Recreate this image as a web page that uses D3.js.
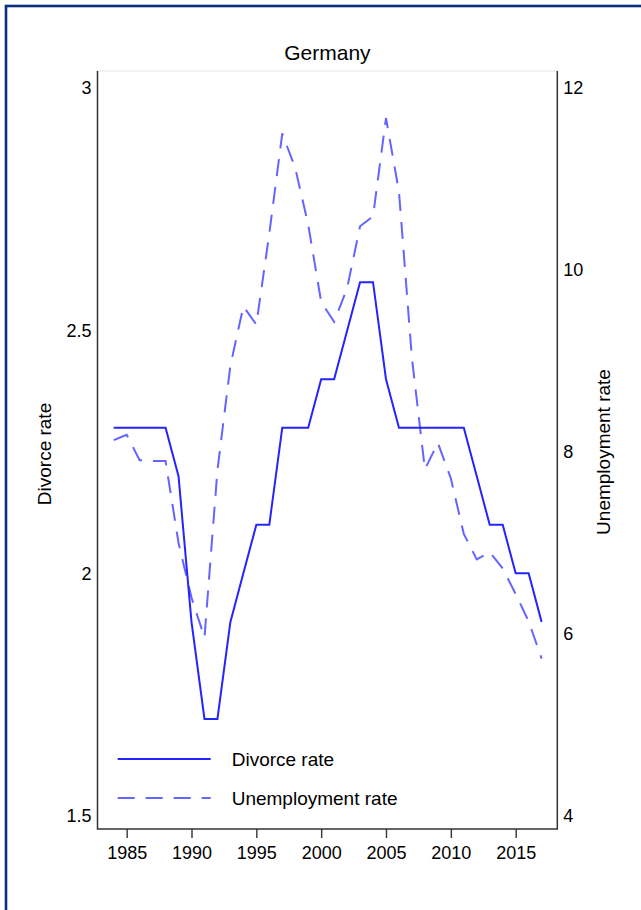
<!DOCTYPE html>
<html>
<head>
<meta charset="utf-8">
<script src="https://cdn.jsdelivr.net/npm/d3@7"></script>
<style>
  html, body { margin: 0; padding: 0; background: #fff; }
  svg { display: block; font-family: "Liberation Sans", Arial, Helvetica, sans-serif; }
</style>
</head>
<body>
<svg id="chart" width="641" height="910"></svg>
<script>
// ---- data ----
const years = [1984,1985,1986,1987,1988,1989,1990,1991,1992,1993,1994,1995,1996,1997,1998,1999,2000,2001,2002,2003,2004,2005,2006,2007,2008,2009,2010,2011,2012,2013,2014,2015,2016,2017];
const divorceRate = [2.3,2.3,2.3,2.3,2.3,2.2,1.9,1.7,1.7,1.9,2.0,2.1,2.1,2.3,2.3,2.3,2.4,2.4,2.5,2.6,2.6,2.4,2.3,2.3,2.3,2.3,2.3,2.3,2.2,2.1,2.1,2.0,2.0,1.9];
const unemploymentRate = [8.13,8.19,7.91,7.9,7.9,7.0,6.4,5.96,7.8,8.95,9.6,9.4,10.4,11.5,11.12,10.5,9.65,9.43,9.8,10.48,10.59,11.67,10.86,9.03,7.81,8.1,7.71,7.1,6.82,6.9,6.72,6.44,6.14,5.73];
const xTicks = [1985,1990,1995,2000,2005,2010,2015];
const leftTicks = [1.5,2,2.5,3];
const rightTicks = [4,6,8,10,12];
const title = "Germany";
const leftTitle = "Divorce rate";
const rightTitle = "Unemployment rate";
const seriesNames = ["Divorce rate","Unemployment rate"];

// ---- layout ----
const svg = d3.select("#chart");
const plot = {left: 97.5, right: 557.3, top: 71, bottom: 829};
const x = d3.scaleLinear().domain([1984, 2017]).range([113.7, 541.6]);
const yL = d3.scaleLinear().domain([1.5, 3]).range([816, 88]);
const yR = d3.scaleLinear().domain([4, 12]).range([816, 88]);

const solidColor = "#2424ff";
const dashColor = "#6464ff";
const dash = "17,11";

// outer frame
svg.append("rect").attr("x", 0).attr("y", 0).attr("width", 641).attr("height", 910).attr("fill", "#fff");
svg.append("rect").attr("x", 6).attr("y", 6).attr("width", 700).attr("height", 1000)
  .attr("fill", "none").attr("stroke", "#0b2f7e").attr("stroke-width", 2.6);

// plot region top outline (light)
svg.append("line").attr("x1", plot.left).attr("x2", plot.right).attr("y1", plot.top).attr("y2", plot.top)
  .attr("stroke", "#dfe8ec").attr("stroke-width", 1);

// title
svg.append("text").attr("x", (plot.left + plot.right) / 2).attr("y", 60)
  .attr("text-anchor", "middle").attr("font-size", 21).attr("fill", "#000").text(title);

// axes
const axisColor = "#333";
const gx = svg.append("g").attr("transform", `translate(0,${plot.bottom})`)
  .call(d3.axisBottom(x).tickValues(xTicks).tickFormat(d3.format("d")).tickSize(9).tickSizeOuter(0).tickPadding(8));
gx.select(".domain").remove();
gx.selectAll(".tick line").attr("stroke", axisColor).attr("stroke-width", 1.4);
gx.selectAll(".tick text").attr("font-size", 18).attr("fill", "#000").attr("font-family", null);

const gl = svg.append("g").attr("transform", `translate(${plot.left},0)`)
  .call(d3.axisLeft(yL).tickValues(leftTicks).tickFormat(d => String(d)).tickSize(0).tickPadding(6));
gl.select(".domain").remove();
gl.selectAll(".tick text").attr("font-size", 18).attr("fill", "#000").attr("font-family", null);

const gr = svg.append("g").attr("transform", `translate(${plot.right},0)`)
  .call(d3.axisRight(yR).tickValues(rightTicks).tickFormat(d => String(d)).tickSize(0).tickPadding(6));
gr.select(".domain").remove();
gr.selectAll(".tick text").attr("font-size", 18).attr("fill", "#000").attr("font-family", null);

// axis lines
svg.append("path")
  .attr("d", `M${plot.left},${plot.top}V${plot.bottom}H${plot.right}V${plot.top}`)
  .attr("fill", "none").attr("stroke", axisColor).attr("stroke-width", 1.5);

// axis titles
svg.append("text").attr("transform", `translate(51,${(plot.top + plot.bottom) / 2 + 4}) rotate(-90)`)
  .attr("text-anchor", "middle").attr("font-size", 19).attr("fill", "#000").text(leftTitle);
svg.append("text").attr("transform", `translate(610,${(plot.top + plot.bottom) / 2 + 2}) rotate(-90)`)
  .attr("text-anchor", "middle").attr("font-size", 19).attr("fill", "#000").text(rightTitle);

// lines
const data = years.map((yr, i) => ({year: yr, div: divorceRate[i], un: unemploymentRate[i]}));
const lineDiv = d3.line().x(d => x(d.year)).y(d => yL(d.div));
const lineUn = d3.line().x(d => x(d.year)).y(d => yR(d.un));

svg.append("path").datum(data).attr("d", lineUn)
  .attr("fill", "none").attr("stroke", dashColor).attr("stroke-width", 2)
  .attr("stroke-dasharray", dash).attr("stroke-linejoin", "miter");
svg.append("path").datum(data).attr("d", lineDiv)
  .attr("fill", "none").attr("stroke", solidColor).attr("stroke-width", 2)
  .attr("stroke-linejoin", "miter");

// legend
const leg = svg.append("g");
const legItems = [
  {name: seriesNames[0], color: solidColor, dash: null, y: 759},
  {name: seriesNames[1], color: dashColor, dash: dash, y: 798}
];
legItems.forEach(it => {
  leg.append("line").attr("x1", 117.7).attr("x2", 210.7).attr("y1", it.y).attr("y2", it.y)
    .attr("stroke", it.color).attr("stroke-width", 2)
    .attr("stroke-dasharray", it.dash);
  leg.append("text").attr("x", 231.7).attr("y", it.y + 7).attr("font-size", 19).attr("fill", "#000").text(it.name);
});
</script>
</body>
</html>
